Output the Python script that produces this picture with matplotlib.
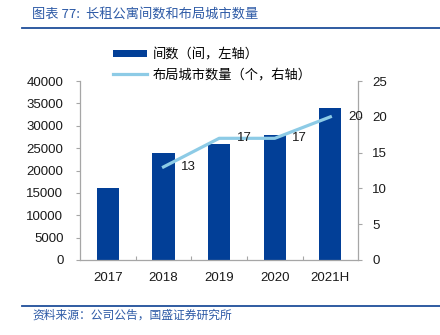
import matplotlib
matplotlib.use('Agg')
import matplotlib.pyplot as plt
from matplotlib.lines import Line2D
from matplotlib.patches import Patch

plt.rcParams['font.family'] = ['Liberation Sans', 'Noto Sans CJK SC', 'DejaVu Sans']

# ── data ──
years = ['2017', '2018', '2019', '2020', '2021H']
rooms = [16000, 24000, 26000, 28000, 34000]          # 间数, left axis
city_years = ['2018', '2019', '2020', '2021H']
cities = [13, 17, 17, 20]                             # 布局城市数量, right axis

C_BAR = '#023F97'
C_LINE = '#8DCBE6'
C_TITLE = '#2D5AA6'
C_AXIS = '#A6A6A6'
CJK = ['Noto Sans CJK SC', 'DejaVu Sans']

fig = plt.figure(figsize=(4.4, 3.35), dpi=100)
ax = fig.add_axes([0.182, 0.224, 0.632, 0.534])
ax2 = ax.twinx()

x = list(range(len(years)))
ax.bar(x, rooms, width=0.4, color=C_BAR, zorder=2)
ax.set_ylim(0, 40000)
ax.set_yticks(range(0, 40001, 5000))
ax.set_xlim(-0.5, len(years) - 0.5)
ax.set_xticks(x)
ax.set_xticklabels(years)
ax.set_xticks([i + 0.5 for i in range(len(years) - 1)], minor=True)

cx = [years.index(y) for y in city_years]
ax2.plot(cx, cities, color=C_LINE, lw=2.3, zorder=3)
for xi, v in zip(cx, cities):
    ax2.text(xi + 0.45, v, str(v), ha='center', va='center', fontsize=9.5, color='#1a1a1a')
ax2.set_ylim(0, 25)
ax2.set_yticks(range(0, 26, 5))

for a in (ax, ax2):
    a.spines['top'].set_visible(False)
    for s in ('left', 'right', 'bottom'):
        a.spines[s].set_color(C_AXIS)
        a.spines[s].set_linewidth(0.9)
    a.set_facecolor('none')
ax.spines['right'].set_visible(False)
ax2.spines['left'].set_visible(False)
ax2.spines['bottom'].set_visible(False)

ax.tick_params(axis='y', length=3, width=0.8, color=C_AXIS, pad=9, labelsize=9.5, labelcolor='#1a1a1a')
ax2.tick_params(axis='y', length=3, width=0.8, color=C_AXIS, pad=7, labelsize=9.5, labelcolor='#1a1a1a')
ax.tick_params(axis='x', which='major', length=0, pad=9, labelsize=9.5, labelcolor='#1a1a1a')
ax.tick_params(axis='x', which='minor', direction='in', length=3, width=0.8, color=C_AXIS)

# legend
handles = [Patch(facecolor=C_BAR, edgecolor='none'),
           Line2D([], [], color=C_LINE, lw=2.3)]
labels = ['间数（间，左轴）', '布局城市数量（个，右轴）']
fig.legend(handles, labels, loc='upper left', bbox_to_anchor=(0.245, 0.872),
           frameon=False, prop={'family': CJK, 'size': 9.5}, handlelength=2.6,
           handleheight=0.45, labelspacing=0.55, handletextpad=0.4, borderaxespad=0)

# title and source
fig.text(0.073, 0.958, '图表 77:  长租公寓间数和布局城市数量', family=CJK, fontsize=9.5,
         color=C_TITLE, ha='left', va='center')
fig.add_artist(Line2D([0.05, 1.0], [0.916, 0.916], color='#1F4E9A', lw=1.3))
fig.add_artist(Line2D([0.05, 1.0], [0.087, 0.087], color='#1F4E9A', lw=1.3))
fig.text(0.073, 0.058, '资料来源：公司公告，国盛证券研究所', family=CJK, fontsize=8.5,
         color=C_TITLE, ha='left', va='center')

fig.savefig('out.png', dpi=100)
